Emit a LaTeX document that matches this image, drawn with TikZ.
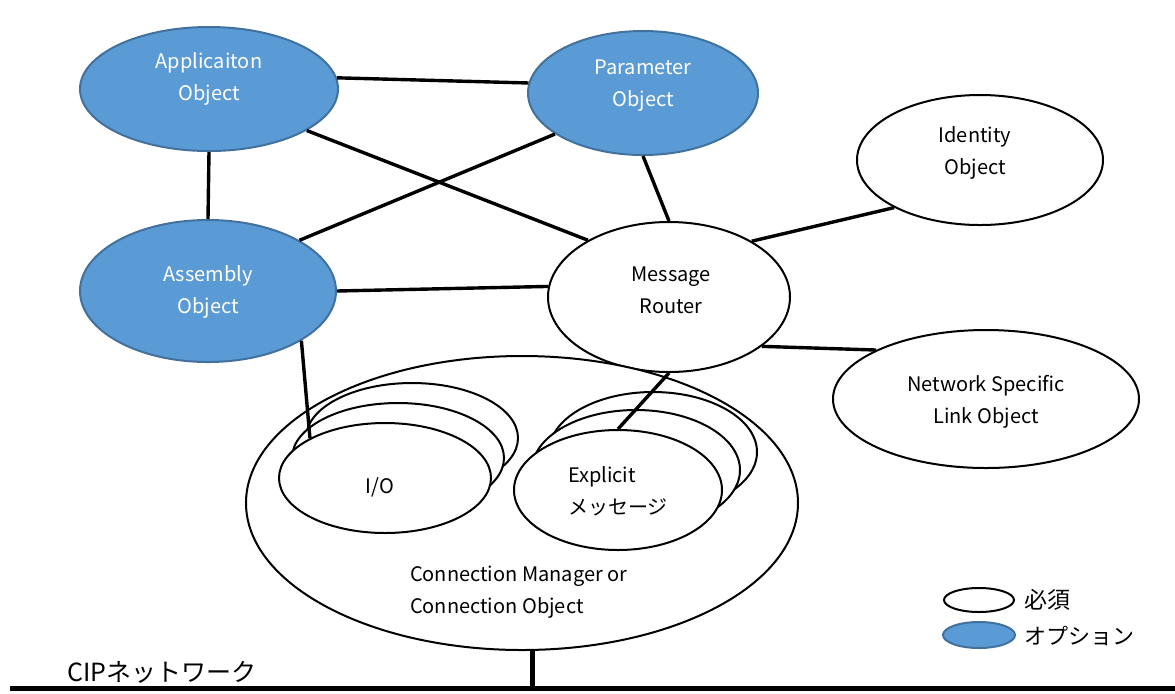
\documentclass[tikz,border=0pt]{standalone}
\usepackage{fontspec}
\setmainfont{Noto Sans CJK JP}
\usetikzlibrary{shapes.geometric}
\definecolor{optfill}{HTML}{5B9BD5}
\definecolor{optdraw}{HTML}{41719C}
\begin{document}
\begin{tikzpicture}[x=0.5pt,y=-0.5pt,
 ell/.style={ellipse,draw=black,line width=1pt,fill=white,inner sep=0pt},
 opt/.style={ellipse,draw=optdraw,line width=1pt,fill=optfill,inner sep=0pt},
 lbl/.style={align=center,font=\fontsize{10pt}{16pt}\selectfont},
 wlbl/.style={lbl,text=white},
 link/.style={line width=1.7pt,black},
 bus/.style={line width=2.5pt,black},
]
\useasboundingbox (0,0) rectangle (1175,693);
% objects
\node[opt,minimum width=129pt,minimum height=62pt] (app) at (209,89) {};
\node[opt,minimum width=115pt,minimum height=62pt] (param) at (643,93) {};
\node[opt,minimum width=128pt,minimum height=71pt] (asm) at (208,291) {};
\node[ell,minimum width=121pt,minimum height=75pt] (router) at (669,297) {};
\node[ell,minimum width=123pt,minimum height=65pt] (ident) at (980,160) {};
\node[ell,minimum width=153pt,minimum height=69pt] (netw) at (986,399) {};
\node[ell,minimum width=276pt,minimum height=147pt] (cm) at (522,503) {};
\node[ell,minimum width=106pt,minimum height=55pt] (io3) at (412,438) {};
\node[ell,minimum width=106pt,minimum height=55pt] (io2) at (398,458) {};
\node[ell,minimum width=106pt,minimum height=55pt] (io) at (385,478) {};
\node[ell,minimum width=104pt,minimum height=60pt] (ex3) at (653,452) {};
\node[ell,minimum width=104pt,minimum height=60pt] (ex2) at (636,470) {};
\node[ell,minimum width=104pt,minimum height=60pt] (ex) at (618,490) {};
% labels
\node[wlbl] (appT) at (209,79) {Applicaiton\\Object};
\node[wlbl] (paramT) at (643,86) {Parameter\\Object};
\node[wlbl] (asmT) at (208,292) {Assembly\\Object};
\node[lbl] (routerT) at (671,290) {Message\\Router};
\node[lbl] (identT) at (975,153) {Identity\\Object};
\node[lbl] (netwT) at (986,402) {Network Specific\\Link Object};
\node[lbl] (ioT) at (380,487) {I/O};
\node[lbl,align=left,anchor=west] (exT) at (561,491) {Explicit\\メッセージ};
\node[lbl,align=left,anchor=west] (cmT) at (403,592) {Connection Manager or\\Connection Object};
% connectors
\draw[link] (app.5) -- (param.175);
\draw[link] (app.-23) -- (router.145);
\draw[link] (app.south) -- (asm.north);
\draw[link] (param.205) -- (asm.29);
\draw[link] (param.south) -- (router.north);
\draw[link] (asm.east) -- (router.175);
\draw[link] (router.34) -- (ident.209);
\draw[link] (router.-28) -- (netw.156);
\draw[link] (router.south) -- (ex.north);
\draw[link] (asm.-28) -- (io.152);
% network bus
\coordinate (busL) at (10,688);
\coordinate (busR) at (1175,688);
\draw[bus] (busL) -- (busR);
\draw[bus] (cm.-86) -- (cm.-86 |- busL);
\node[anchor=west,font=\fontsize{12.5pt}{14pt}\selectfont] (cipT) at (60,672) {CIPネットワーク};
% legend
\node[ell,minimum width=35pt,minimum height=12pt] (legReq) at (979,600) {};
\node[anchor=west,font=\fontsize{11.5pt}{13pt}\selectfont] (legReqT) at (1017,600) {必須};
\node[opt,minimum width=36pt,minimum height=13pt] (legOpt) at (979,635) {};
\node[anchor=west,font=\fontsize{11pt}{13pt}\selectfont] (legOptT) at (1017,636) {オプション};
\end{tikzpicture}
\end{document}
